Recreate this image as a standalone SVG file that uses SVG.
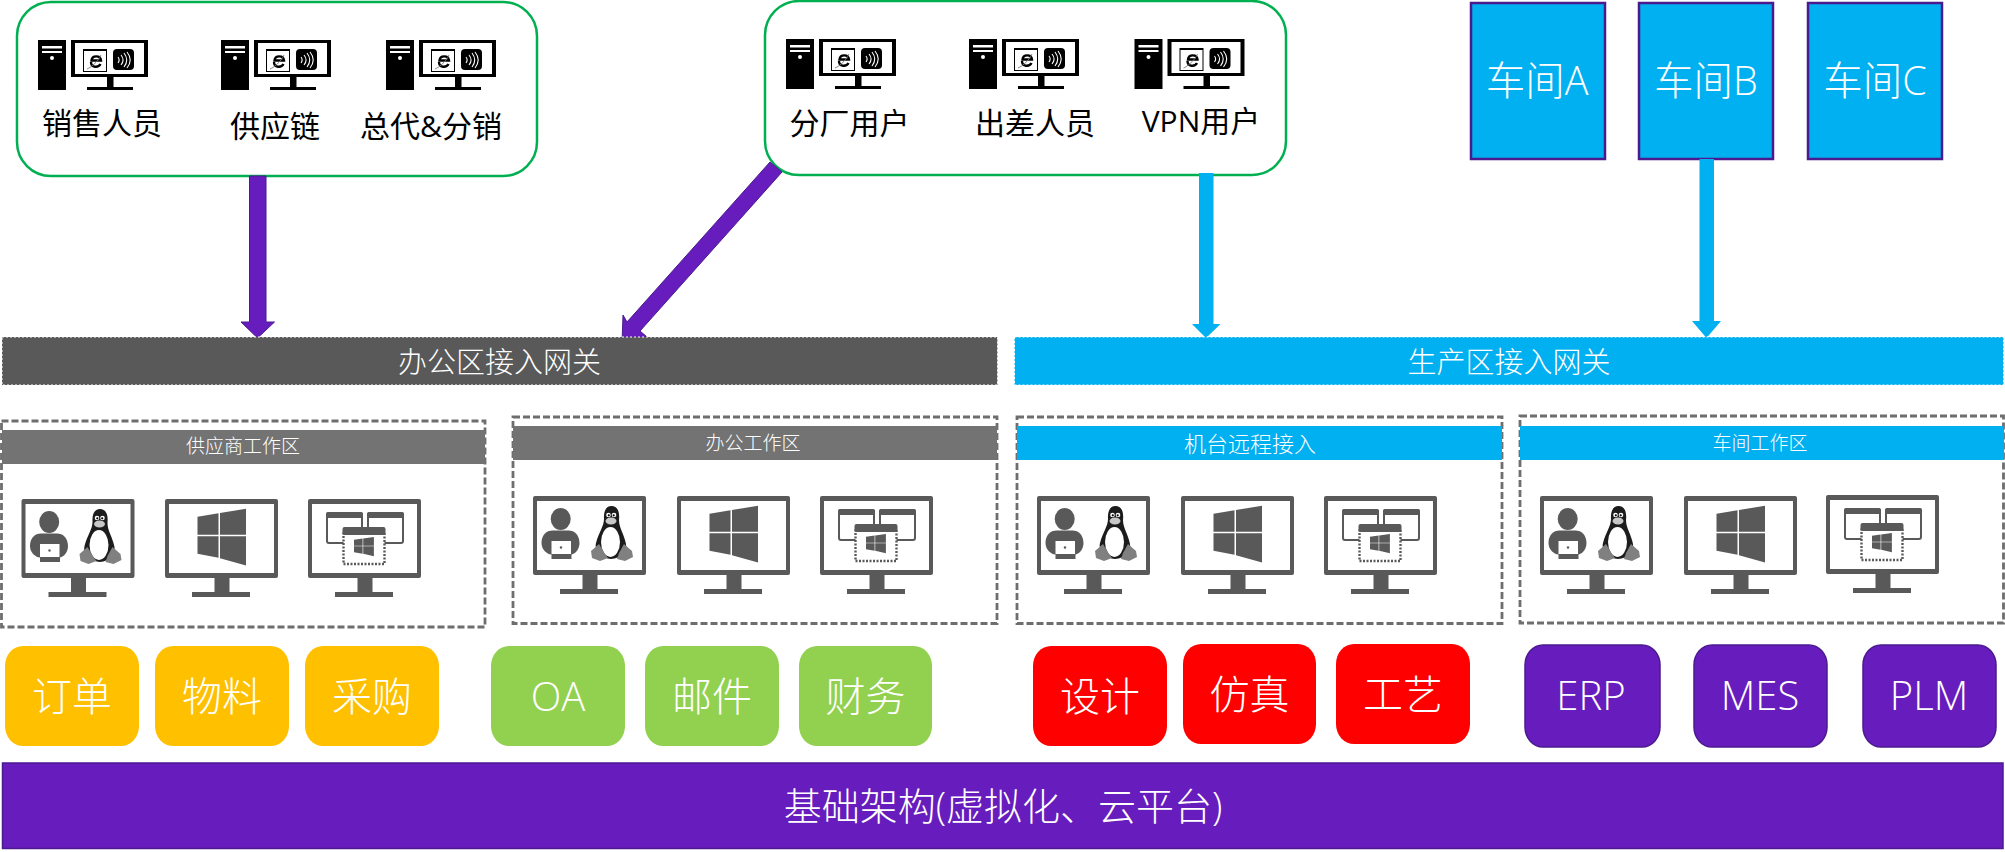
<svg xmlns="http://www.w3.org/2000/svg" width="2005" height="852" viewBox="0 0 2005 852">
<style>
text{font-family:"Open Sans","Noto Sans CJK SC","Noto Sans",sans-serif;text-anchor:middle;dominant-baseline:central}
.w{fill:#fff;font-weight:300}
.k{fill:#000;font-size:30px;font-weight:400}
.t{font-size:40px}
.s{font-size:39.500px}
.b{font-size:38px}
.g{font-size:29px}
.h{font-size:19px}
.user{fill:#fff;stroke:#00b050;stroke-width:2.5}
.shop{fill:#00b0f0;stroke:#4b1a8f;stroke-width:2.5}
.panel{fill:#fff;stroke:#6e6e6e;stroke-width:2.800;stroke-dasharray:7 3}
.hg{fill:#737373}.hb{fill:#00b0f0}
.d{fill:#595959}
.or{fill:#ffc000}.gr{fill:#92d050}.re{fill:#f00}.pu{fill:#671cbd;stroke:#4b1a8f;stroke-width:1.5}
</style>
<defs>
<g id="pc">
<rect width="28" height="50"/>
<rect x="4" y="6" width="20" height="2.5" fill="#fff"/><rect x="4" y="11" width="20" height="2" fill="#fff"/>
<circle cx="14" cy="18" r="2" fill="#fff"/>
<rect x="33" width="77" height="37"/><rect x="37" y="3" width="69" height="31" fill="#fff"/>
<rect x="69" y="37" width="6.5" height="10"/><rect x="49" y="47" width="46" height="3"/>
<rect x="45.5" y="9.5" width="23" height="22" fill="#fff" stroke="#000"/>
<rect x="45.5" y="9.5" width="23" height="1.5"/>
<path d="M63 20.500H53.500C54 15 62.500 15 63 20.500ZM62.500 24C60.500 28 53 28 53 22" fill="none" stroke="#000" stroke-width="2.400"/>
<path d="M49 29c3-1 11-7 14-14" fill="none" stroke="#777" stroke-width=".9"/>
<rect x="75" y="9" width="21" height="21" rx="4"/>
<path d="M80 17c1.500 2 1.500 4 0 6M83 15c2.500 3 2.500 7 0 10M86 13c3.500 4.500 3.500 9.500 0 14M89 12c4 5 4 11 0 16" fill="none" stroke="#fff" stroke-width="1.100"/>
</g>
<g id="mon">
<rect width="113" height="79" rx="2" class="d"/><rect x="4" y="5" width="105" height="69" fill="#fff"/>
<rect x="49.500" y="79" width="15" height="14" class="d"/><rect x="27" y="93" width="58" height="5" class="d"/>
</g>
<g id="m1">
<use href="#mon"/>
<ellipse cx="27.700" cy="23" rx="10" ry="11" class="d"/>
<path d="M8.500 47c0-8 5-12.500 11-12.500h16c6 0 11 4.500 11 12.500c0 6-4 11-8 11.500v4.500h-20v-4.500c-5-.5-10-5-10-11.500z" class="d"/>
<rect x="18.500" y="45" width="19.500" height="13" fill="#fff"/><circle cx="28" cy="51.500" r="1.200" class="d"/>
<path d="M78.500 10C73 10 70.500 15 71 23C71 30 66 36 63 47C61 55 68 62 78 63C89 62 94 56 93 48C91 38 86 32 86 24C87 15 84 10 78.500 10Z" fill="#1c1c1c"/>
<ellipse cx="77.500" cy="46" rx="9.500" ry="15" fill="#fff"/>
<ellipse cx="78" cy="25" rx="5.500" ry="3.500" fill="#c8c8c8"/>
<circle cx="75.500" cy="19" r="2.300" fill="#fff"/><circle cx="81" cy="19" r="2.300" fill="#fff"/>
<circle cx="75.800" cy="19.300" r="1.100"/><circle cx="80.700" cy="19.300" r="1.100"/>
<path d="M66 48l6 10l3 4l-8 3l-8-3l-1-7z" fill="#808080"/>
<path d="M91 48l-5 9l-2 6l8 2l8-4l-1-6z" fill="#808080"/>
</g>
<g id="winlogo">
<path d="M0 8L21 4.500V26H0zM22.500 4.300L48.500 0V26H22.500zM0 27.500H21V49L0 45zM22.500 27.500H48.500V56.700L22.500 49.500z" class="d"/>
</g>
<g id="m2">
<use href="#mon"/>
<use href="#winlogo" transform="translate(32.500 9.700)"/>
</g>
<g id="m3">
<use href="#mon"/>
<rect x="19" y="14" width="35" height="30" rx="2" fill="#fff" stroke="#595959" stroke-width="2"/><rect x="18" y="13" width="37" height="6" rx="2" class="d"/>
<rect x="60" y="14" width="35" height="30" rx="2" fill="#fff" stroke="#595959" stroke-width="2"/><rect x="59" y="13" width="37" height="6" rx="2" class="d"/>
<rect x="35.500" y="33" width="41" height="32" fill="#fff" stroke="#595959" stroke-width="2.400" stroke-dasharray="2 1.500"/>
<rect x="34.500" y="28" width="43" height="8" rx="2" class="d"/>
<use href="#winlogo" transform="translate(46 38) scale(.41 .34)"/>
</g>
</defs>

<g id="user-group-1"><rect class="user" x="17" y="2" width="520" height="174" rx="34"/>
<use href="#pc" x="38" y="40"/><use href="#pc" x="221" y="40"/><use href="#pc" x="386" y="40"/>
<text class="k" x="102" y="122">销售人员</text><text class="k" x="275" y="125">供应链</text><text class="k" x="431" y="125">总代&amp;分销</text></g>
<g id="user-group-2"><rect class="user" x="765" y="1" width="521" height="174" rx="34"/>
<use href="#pc" x="786" y="39"/><use href="#pc" x="969" y="39"/><use href="#pc" x="1134.500" y="39"/>
<text class="k" x="849.500" y="122">分厂用户</text><text class="k" x="1035" y="122">出差人员</text><text class="k" x="1201" y="120">VPN用户</text></g>
<g id="workshop-a"><rect class="shop" x="1471" y="3" width="134" height="156"/><text class="w s" x="1537" y="80">车间A</text></g>
<g id="workshop-b"><rect class="shop" x="1639" y="3" width="134" height="156"/><text class="w s" x="1706" y="80">车间B</text></g>
<g id="workshop-c"><rect class="shop" x="1808" y="3" width="134" height="156"/><text class="w s" x="1875" y="80">车间C</text></g>

<g id="connectors">
<path d="M249.500 176H266V322H274.500L257.500 338L241 322H249.500Z" fill="#671cbd" stroke="#4b1a8f"/>
<path d="M770 162L782 172L640 331L647 337L622 343L623 315L627 322Z" fill="#671cbd" stroke="#4b1a8f"/>
<path d="M1199 173H1213.500V324H1220.500L1206 338L1192 324H1199Z" fill="#00b0f0"/>
<path d="M1699.500 159H1714V321H1721L1706.500 338L1692 321H1699.500Z" fill="#00b0f0"/>
</g>

<g id="gateway-office"><rect x="2" y="337" width="995.500" height="48" fill="#595959" stroke="#fff" stroke-width="1" stroke-dasharray="2 2"/><text class="w g" x="499.500" y="361">办公区接入网关</text></g>
<g id="gateway-production"><rect x="1014.500" y="337" width="989" height="48" fill="#00b0f0" stroke="#fff" stroke-width="1" stroke-dasharray="2 2"/><text class="w g" x="1509" y="361">生产区接入网关</text></g>

<g id="panel-supplier"><rect class="panel" x="1.500" y="421" width="483.500" height="206"/><rect class="hg" x="2" y="430" width="483" height="34"/><text class="w h" x="243" y="446">供应商工作区</text>
<use href="#m1" x="21.500" y="499"/><use href="#m2" x="165" y="499"/><use href="#m3" x="308" y="499"/></g>
<g id="panel-office"><rect class="panel" x="513" y="417" width="484" height="206.500"/><rect class="hg" x="513" y="426" width="484" height="34"/><text class="w h" x="753" y="443">办公工作区</text>
<use href="#m1" x="533" y="496"/><use href="#m2" x="677" y="496"/><use href="#m3" x="820" y="496"/></g>
<g id="panel-machine"><rect class="panel" x="1017" y="417" width="485" height="206.500"/><rect class="hb" x="1017" y="426" width="485" height="34"/><text class="w h" x="1250" y="443" style="font-size:22px">机台远程接入</text>
<use href="#m1" x="1037" y="496"/><use href="#m2" x="1181" y="496"/><use href="#m3" x="1324" y="496"/></g>
<g id="panel-workshop"><rect class="panel" x="1520" y="416" width="483.500" height="207"/><rect class="hb" x="1520" y="426" width="484" height="34"/><text class="w h" x="1760" y="443">车间工作区</text>
<use href="#m1" x="1540" y="496"/><use href="#m2" x="1684" y="496"/><use href="#m3" x="1826" y="495"/></g>

<g id="app-order"><rect class="or" x="5" y="646" width="134" height="100" rx="18" ry="20"/><text class="w t" x="72" y="695">订单</text></g>
<g id="app-material"><rect class="or" x="155" y="646" width="134" height="100" rx="18" ry="20"/><text class="w t" x="222" y="695">物料</text></g>
<g id="app-purchase"><rect class="or" x="305" y="646" width="134" height="100" rx="18" ry="20"/><text class="w t" x="372" y="695">采购</text></g>
<g id="app-oa"><rect class="gr" x="491" y="646" width="134" height="100" rx="18" ry="20"/><text class="w t" x="558" y="695">OA</text></g>
<g id="app-mail"><rect class="gr" x="645" y="646" width="134" height="100" rx="18" ry="20"/><text class="w t" x="712" y="695">邮件</text></g>
<g id="app-finance"><rect class="gr" x="799" y="646" width="133" height="100" rx="18" ry="20"/><text class="w t" x="865.500" y="695">财务</text></g>
<g id="app-design"><rect class="re" x="1033" y="646" width="134" height="100" rx="18" ry="20"/><text class="w t" x="1100" y="695">设计</text></g>
<g id="app-sim"><rect class="re" x="1183" y="644" width="133" height="100" rx="18" ry="20"/><text class="w t" x="1249.500" y="693">仿真</text></g>
<g id="app-craft"><rect class="re" x="1336" y="644" width="134" height="100" rx="18" ry="20"/><text class="w t" x="1403" y="693">工艺</text></g>
<g id="app-erp"><rect class="pu" x="1525" y="645" width="135" height="102" rx="18" ry="20"/><text class="w t" x="1591" y="694">ERP</text></g>
<g id="app-mes"><rect class="pu" x="1694" y="645" width="133" height="102" rx="18" ry="20"/><text class="w t" x="1760" y="694">MES</text></g>
<g id="app-plm"><rect class="pu" x="1863" y="645" width="133" height="102" rx="18" ry="20"/><text class="w t" x="1929" y="694">PLM</text></g>

<g id="infrastructure"><rect class="pu" x="2.500" y="763" width="2000.500" height="85.500"/><text class="w b" x="1003" y="805">基础架构(虚拟化、云平台)</text></g>
</svg>
